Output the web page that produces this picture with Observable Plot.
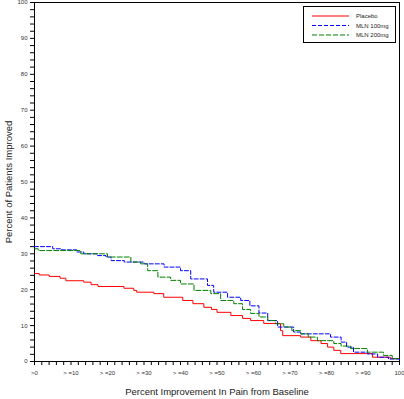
<!DOCTYPE html>
<html>
<head>
<meta charset="utf-8">
<script src="https://cdn.jsdelivr.net/npm/d3@7"></script>
<script src="https://cdn.jsdelivr.net/npm/@observablehq/plot@0.6"></script>
<style>
  body { margin: 0; background: #fff; }
  #chart { position: relative; width: 404px; height: 399px; font-family: "Liberation Sans", Arial, sans-serif; }
  #legend { position: absolute; left: 303px; top: 6px; width: 91px; height: 35px; border: 1px solid #000; background: #fff; }
</style>
</head>
<body>
<div id="chart"></div>
<script>
// Placebo
const placeboX = [0, 1.3, 4, 7, 8.6, 13.5, 15.5, 17.4, 24.5, 27.2, 28, 32.7, 35.4, 40.6, 43.4, 46.4, 48.5, 50, 53.8, 57, 59.2, 62.8, 67.4, 68, 72.9, 75.7, 78.5, 80.3, 82, 83.9, 92.6, 97.5, 100];
const placeboY = [24.5, 24.1, 23.7, 23.2, 22.5, 22.1, 21.4, 20.9, 20.4, 19.8, 19.3, 18.9, 17.9, 17.0, 16.1, 15.1, 14.5, 13.7, 12.8, 12.0, 11.4, 10.6, 8.6, 7.2, 6.8, 5.8, 5.0, 4.0, 3.1, 2.2, 1.2, 0.8, 0.5];
// MLN 100mg
const mln100X = [0, 5, 7.2, 11.6, 13.5, 17.3, 19.6, 21, 24.6, 30, 35.5, 40, 42.8, 47.4, 49.1, 52.9, 56.5, 59, 61.5, 63.9, 66.6, 71, 72.9, 81.1, 84, 85.5, 87.4, 91.2, 94, 97, 100];
const mln100Y = [32.0, 31.4, 31.1, 30.5, 30.0, 29.5, 29.1, 28.1, 27.7, 27.2, 26.3, 25.3, 23.0, 21.2, 19.3, 17.9, 17.0, 15.5, 13.5, 11.4, 9.6, 8.2, 7.7, 6.8, 5.4, 4.0, 2.6, 2.1, 1.2, 0.7, 0.5];
// MLN 200mg
const mln200X = [0, 1, 12.7, 20, 26.4, 29.1, 31, 33.8, 37.3, 40, 43.7, 48.3, 51, 54.6, 57, 59.2, 61.5, 63.9, 66, 68.3, 70.5, 72.9, 75, 77.5, 82, 84, 86.6, 91.2, 95.6, 98, 100];
const mln200Y = [31.4, 30.9, 30.0, 29.1, 27.7, 27.2, 25.3, 23.5, 22.6, 21.6, 19.8, 18.9, 17.0, 16.1, 14.5, 13.4, 12.4, 11.4, 10.5, 9.6, 8.6, 7.7, 6.8, 5.8, 5.0, 4.3, 3.6, 2.6, 1.7, 0.8, 0.5];

const xTickValues = [0, 10, 20, 30, 40, 50, 60, 70, 80, 90, 100];
const xTickLabels = [">0", "> =10", "> =20", "> =30", "> =40", "> =50", "> =60", "> =70", "> =80", "> =90", "100"];
const seriesNames = ["Placebo", "MLN 100mg", "MLN 200mg"];
const seriesColors = ["#ff0000", "#0000ff", "#008000"];
const seriesDash = [null, "4,2", "5,2"];

const toRows = (xs, ys) => xs.map((x, i) => ({x, y: ys[i]}));
const series = [toRows(placeboX, placeboY), toRows(mln100X, mln100Y), toRows(mln200X, mln200Y)];

const plot = Plot.plot({
  width: 404,
  height: 399,
  marginLeft: 34,
  marginRight: 5,
  marginTop: 2,
  marginBottom: 38,
  style: {fontFamily: "Liberation Sans, Arial, sans-serif", background: "#fff", color: "#000"},
  x: {domain: [0, 100]},
  y: {domain: [0, 100]},
  marks: [
    Plot.frame({stroke: "#000", strokeWidth: 1}),
    Plot.axisY({ticks: d3.range(0, 101, 2), tickSize: 4, tickPadding: 3, fontSize: 6, fill: "#333",
      tickFormat: d => d % 10 === 0 ? String(d) : "", label: null}),
    Plot.axisX({ticks: d3.range(0, 101, 2), tickSize: 4, tickPadding: 5, fontSize: 6, fill: "#333",
      tickFormat: d => { const i = xTickValues.indexOf(d); return i >= 0 ? xTickLabels[i] : ""; }, label: null}),
    Plot.text(["Percent Improvement In Pain from Baseline"], {frameAnchor: "bottom", dy: 33, fontSize: 9.5, fill: "#222"}),
    Plot.text(["Percent of Patients Improved"], {frameAnchor: "left", dx: -26, rotate: -90, textAnchor: "middle", fontSize: 9.5, fill: "#222"}),
    ...series.map((rows, i) => Plot.line(rows, {x: "x", y: "y", curve: "step-after",
      stroke: seriesColors[i], strokeWidth: 1, strokeDasharray: seriesDash[i]}))
  ]
});
const chart = document.getElementById("chart");
chart.appendChild(plot);

// legend
const legend = document.createElement("div");
legend.id = "legend";
const ns = "http://www.w3.org/2000/svg";
const svg = document.createElementNS(ns, "svg");
svg.setAttribute("width", 91); svg.setAttribute("height", 35);
seriesNames.forEach((name, i) => {
  const yy = 9 + i * 9.5;
  const ln = document.createElementNS(ns, "line");
  ln.setAttribute("x1", 8); ln.setAttribute("x2", 45);
  ln.setAttribute("y1", yy); ln.setAttribute("y2", yy);
  ln.setAttribute("stroke", seriesColors[i]);
  ln.setAttribute("stroke-width", 1.2);
  if (seriesDash[i]) ln.setAttribute("stroke-dasharray", seriesDash[i]);
  svg.appendChild(ln);
  const t = document.createElementNS(ns, "text");
  t.setAttribute("x", 52); t.setAttribute("y", yy + 2);
  t.setAttribute("font-size", 6); t.setAttribute("fill", "#222");
  t.setAttribute("font-family", "Liberation Sans, Arial, sans-serif");
  t.textContent = name;
  svg.appendChild(t);
});
legend.appendChild(svg);
chart.appendChild(legend);
</script>
</body>
</html>
